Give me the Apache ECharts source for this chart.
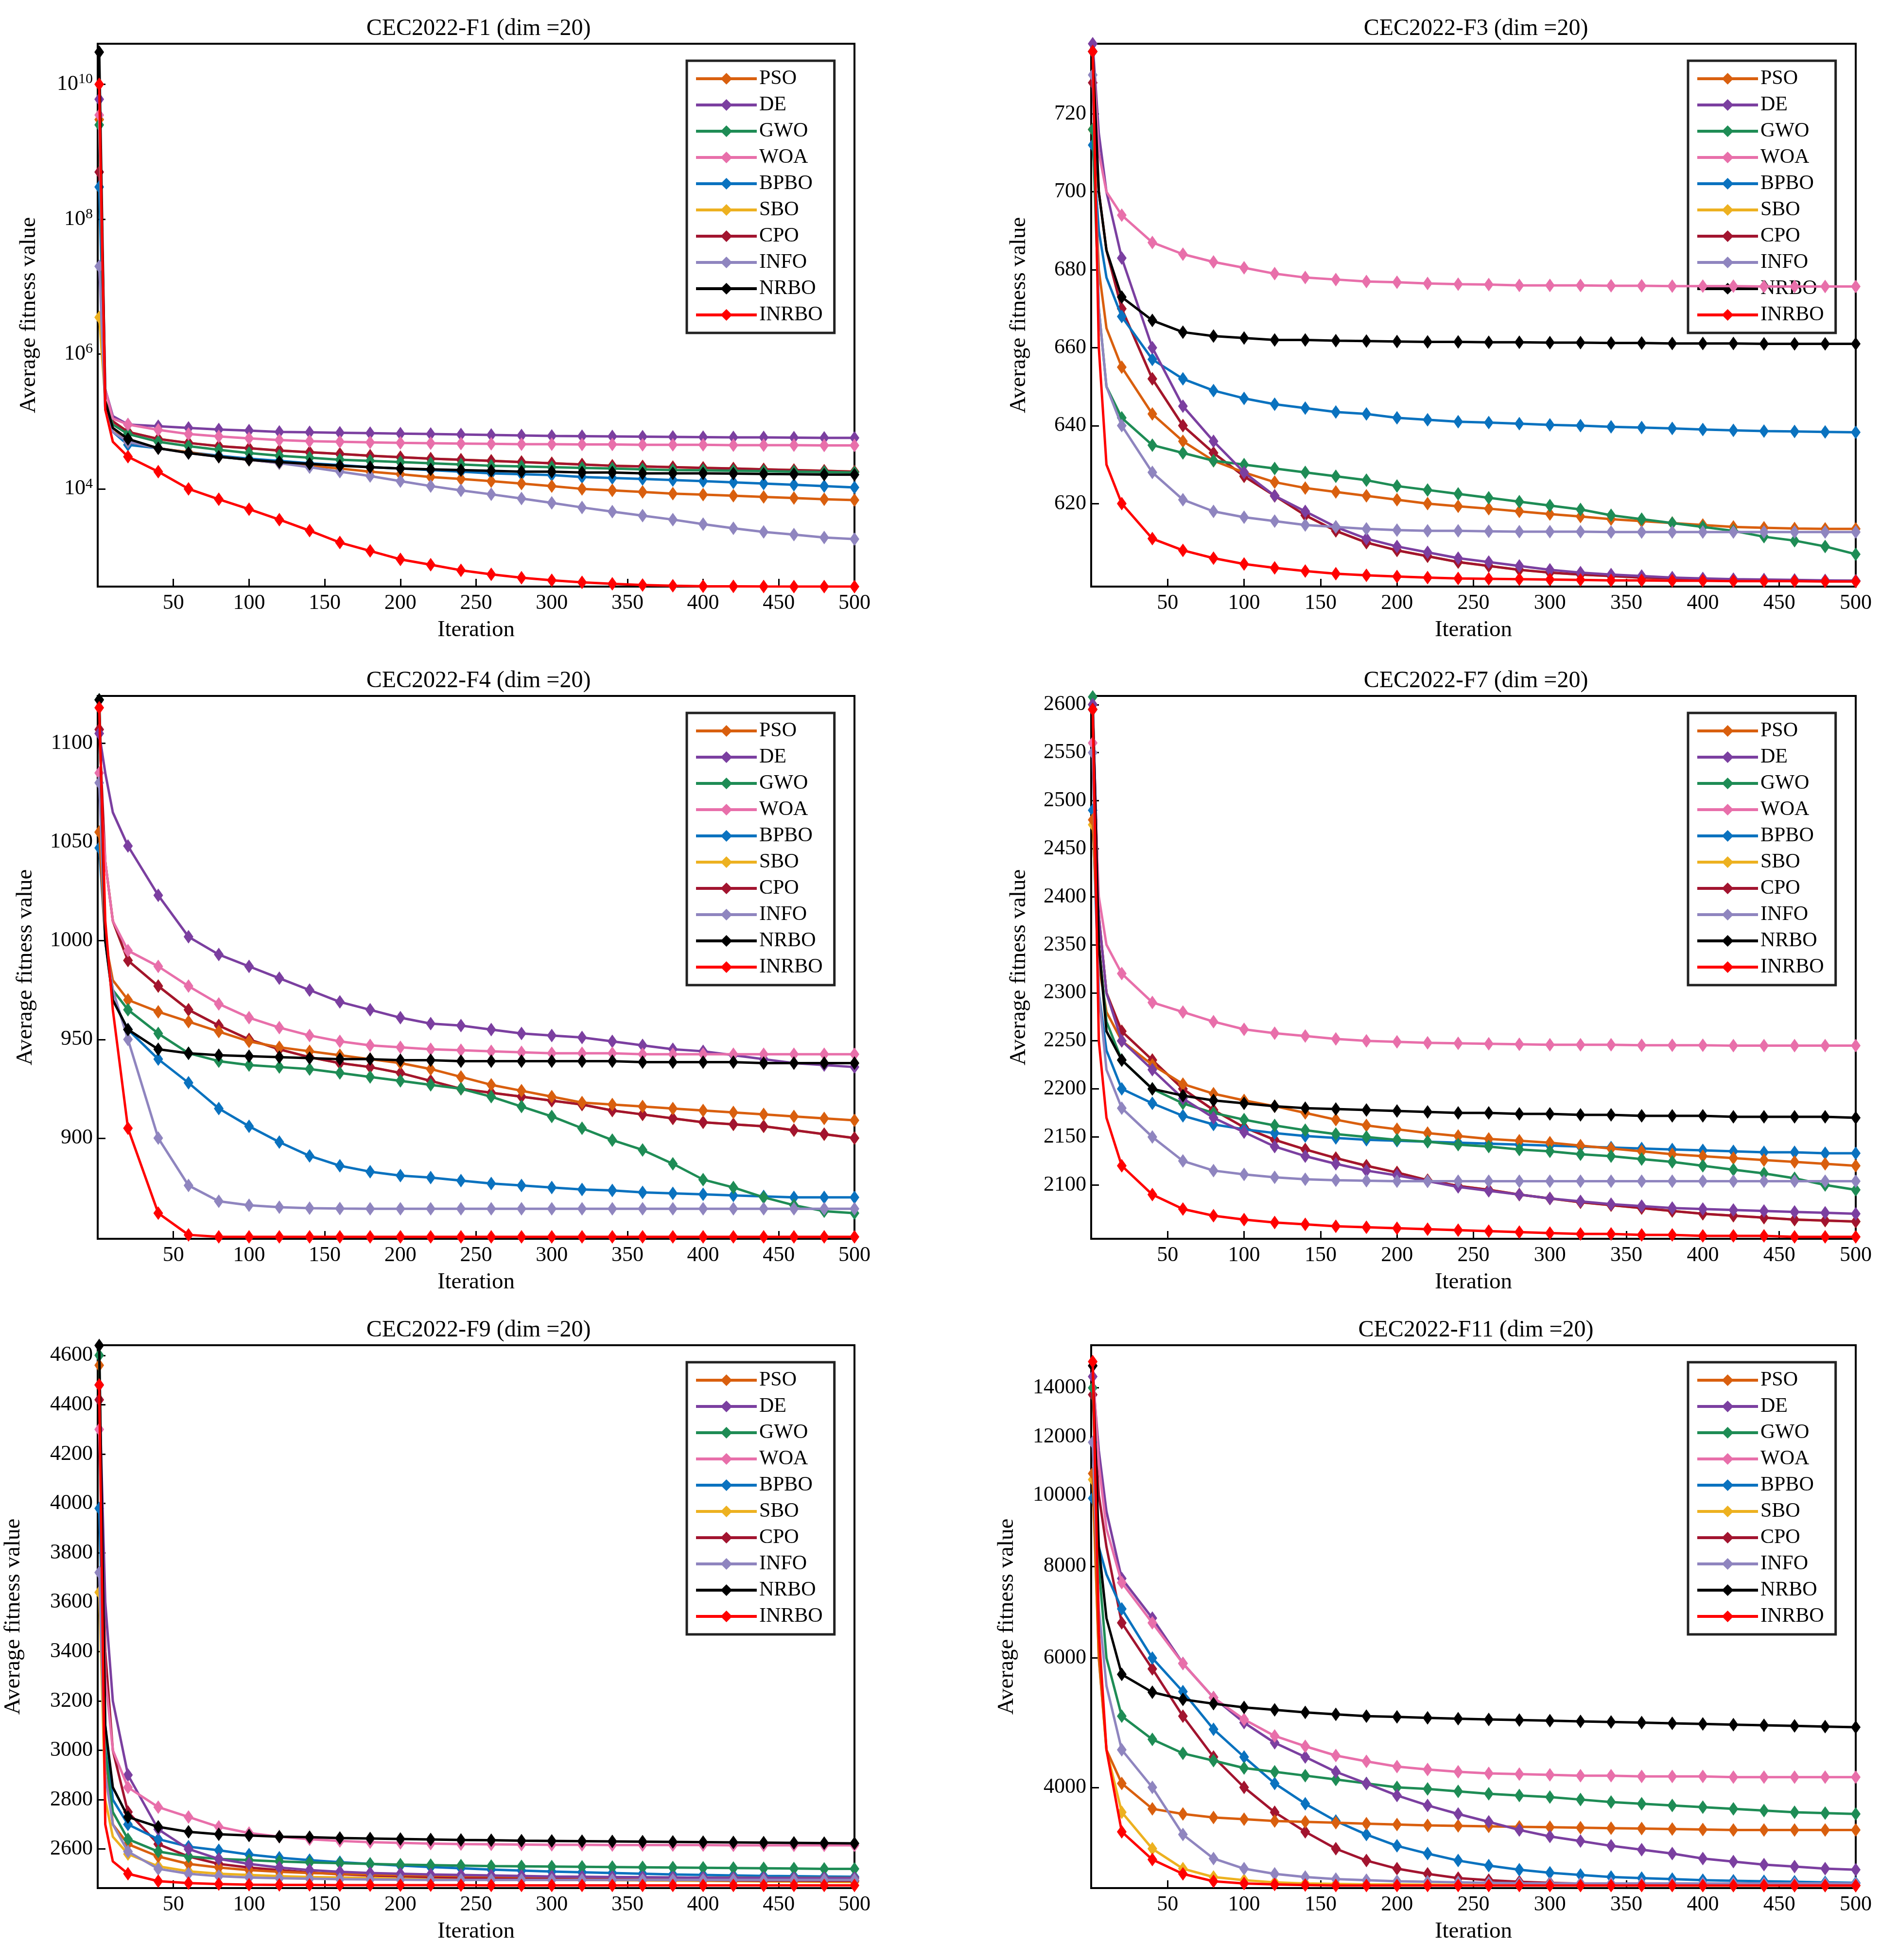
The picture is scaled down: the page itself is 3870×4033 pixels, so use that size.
<!DOCTYPE html>
<html><head><meta charset="utf-8">
<script src="https://cdn.jsdelivr.net/npm/echarts@6/dist/echarts.min.js"></script>
<style>html,body{margin:0;padding:0;background:#fff}#c{width:3870px;height:4033px}</style>
</head><body><div id="c"></div>
<script>
const iters = [1,5,10,20,40,60,80,100,120,140,160,180,200,220,240,260,280,300,320,340,360,380,400,420,440,460,480,500];
const algNames = ['PSO','DE','GWO','WOA','BPBO','SBO','CPO','INFO','NRBO','INRBO'];
const algColors = ['#D95F0E','#7B3FA0','#1E8C55','#E86FAA','#0A72BF','#EDB120','#A2142F','#8F85BF','#000000','#FF0000'];
const panelTitles = ['CEC2022-F1 (dim =20)','CEC2022-F3 (dim =20)','CEC2022-F4 (dim =20)','CEC2022-F7 (dim =20)','CEC2022-F9 (dim =20)','CEC2022-F11 (dim =20)'];

const f1Ticks = [1e4,1e6,1e8,1e10];
const f1_PSO=[3e9,2e5,8e4,5e4,4e4,3.5e4,3e4,2.7e4,2.4e4,2.2e4,2e4,1.8e4,1.65e4,1.5e4,1.4e4,1.3e4,1.2e4,1.1e4,1.0e4,9.5e3,9e3,8.5e3,8.2e3,7.9e3,7.6e3,7.3e3,7e3,6.8e3];
const f1_DE=[6e9,3e5,1.2e5,9e4,8.5e4,8e4,7.6e4,7.3e4,7e4,6.9e4,6.8e4,6.7e4,6.6e4,6.5e4,6.4e4,6.3e4,6.2e4,6.1e4,6.05e4,6e4,5.95e4,5.9e4,5.85e4,5.8e4,5.8e4,5.75e4,5.7e4,5.7e4];
const f1_GWO=[2.5e9,2e5,9e4,6.5e4,5e4,4.3e4,3.8e4,3.4e4,3.1e4,2.9e4,2.7e4,2.6e4,2.5e4,2.4e4,2.3e4,2.2e4,2.15e4,2.1e4,2.05e4,2e4,1.95e4,1.9e4,1.88e4,1.85e4,1.83e4,1.8e4,1.78e4,1.75e4];
const f1_WOA=[3.5e9,3e5,1.1e5,9e4,7.5e4,6.5e4,6e4,5.6e4,5.3e4,5.1e4,5e4,4.9e4,4.8e4,4.75e4,4.7e4,4.65e4,4.6e4,4.6e4,4.55e4,4.55e4,4.5e4,4.5e4,4.5e4,4.45e4,4.45e4,4.45e4,4.4e4,4.4e4];
const f1_BPBO=[3e8,1.5e5,7e4,4.5e4,4e4,3.5e4,3.1e4,2.8e4,2.6e4,2.4e4,2.25e4,2.1e4,2e4,1.9e4,1.8e4,1.7e4,1.65e4,1.6e4,1.5e4,1.45e4,1.4e4,1.35e4,1.3e4,1.25e4,1.2e4,1.15e4,1.1e4,1.05e4];
const f1_SBO=[3.5e6,2e5,1e5,7e4,5.5e4,4.8e4,4.3e4,4e4,3.7e4,3.5e4,3.3e4,3.1e4,2.95e4,2.8e4,2.7e4,2.6e4,2.5e4,2.4e4,2.3e4,2.2e4,2.15e4,2.1e4,2.05e4,2e4,1.95e4,1.9e4,1.85e4,1.8e4];
const f1_CPO=[5e8,2e5,1e5,7e4,5.5e4,4.8e4,4.3e4,4e4,3.7e4,3.5e4,3.3e4,3.1e4,2.95e4,2.8e4,2.7e4,2.6e4,2.5e4,2.4e4,2.3e4,2.2e4,2.15e4,2.1e4,2.05e4,2e4,1.95e4,1.9e4,1.85e4,1.8e4];
const f1_INFO=[2e7,1.5e5,7e4,5e4,4e4,3.4e4,3e4,2.7e4,2.4e4,2.1e4,1.8e4,1.55e4,1.3e4,1.1e4,9.5e3,8.3e3,7.2e3,6.2e3,5.3e3,4.6e3,4e3,3.5e3,3e3,2.6e3,2.3e3,2.1e3,1.9e3,1.8e3];
const f1_NRBO=[3e10,2e5,8e4,5.5e4,4e4,3.4e4,3e4,2.7e4,2.5e4,2.35e4,2.2e4,2.1e4,2e4,1.95e4,1.9e4,1.85e4,1.8e4,1.8e4,1.75e4,1.75e4,1.7e4,1.7e4,1.7e4,1.68e4,1.66e4,1.65e4,1.63e4,1.62e4];
const f1_INRBO=[1e10,1.5e5,5e4,3e4,1.8e4,1e4,7e3,5e3,3.5e3,2.4e3,1.6e3,1.2e3,900,750,620,540,480,440,410,390,375,365,360,358,356,355,355,355];

const f3Ticks = [620,640,660,680,700,720];
const f3_PSO=[716,680,665,655,643,636,631,628,625.5,624,623,622,621,620,619.3,618.7,618,617.3,616.7,616,615.5,615,614.5,614,613.8,613.6,613.5,613.5];
const f3_DE=[738,715,700,683,660,645,636,628,622,618,614,611,609,607.5,606,605,604,603,602.3,601.8,601.4,601,600.8,600.6,600.5,600.4,600.3,600.2];
const f3_GWO=[716,670,650,642,635,633,631,630,629,628,627,626,624.5,623.5,622.5,621.5,620.5,619.5,618.5,617,616,615,614,613,611.5,610.5,609,607];
const f3_WOA=[736,710,700,694,687,684,682,680.5,679,678,677.5,677,676.8,676.5,676.3,676.2,676,676,676,675.9,675.9,675.8,675.8,675.8,675.7,675.7,675.7,675.7];
const f3_BPBO=[712,690,678,668,657,652,649,647,645.5,644.5,643.5,643,642,641.5,641,640.8,640.5,640.2,640,639.7,639.5,639.3,639,638.8,638.6,638.5,638.4,638.3];
const f3_SBO=[716,700,685,670,652,640,633,627,622,617,613,610,608,606.5,605,604,603,602.3,601.8,601.4,601,600.8,600.6,600.5,600.4,600.3,600.2,600.2];
const f3_CPO=[728,700,685,670,652,640,633,627,622,617,613,610,608,606.5,605,604,603,602.3,601.8,601.4,601,600.8,600.6,600.5,600.4,600.3,600.2,600.2];
const f3_INFO=[730,670,650,640,628,621,618,616.5,615.5,614.5,614,613.5,613.2,613,613,612.9,612.8,612.8,612.8,612.7,612.7,612.7,612.7,612.7,612.7,612.7,612.7,612.7];
const f3_NRBO=[736,700,685,673,667,664,663,662.5,662,662,661.8,661.7,661.6,661.5,661.5,661.4,661.4,661.3,661.3,661.2,661.2,661.1,661.1,661.1,661,661,661,661];
const f3_INRBO=[736,660,630,620,611,608,606,604.5,603.5,602.7,602,601.6,601.3,601,600.8,600.7,600.6,600.5,600.4,600.3,600.3,600.2,600.2,600.1,600.1,600.1,600,600];

const f4Ticks = [900,950,1000,1050,1100];
const f4_PSO=[1055,1000,980,970,964,959,954,949,946,944,942,940,938,935,931,927,924,921,918,917,916,915,914,913,912,911,910,909];
const f4_DE=[1105,1085,1065,1048,1023,1002,993,987,981,975,969,965,961,958,957,955,953,952,951,949,947,945,944,942,940,938,937,936];
const f4_GWO=[1122,1000,975,965,953,943,939,937,936,935,933,931,929,927,925,921,916,911,905,899,894,887,879,875,870,866,863,862];
const f4_WOA=[1085,1040,1010,995,987,977,968,961,956,952,949,947,946,945,944.5,944,943.5,943,943,943,942.5,942.5,942.5,942.5,942.5,942.5,942.5,942.5];
const f4_BPBO=[1047,1000,970,955,940,928,915,906,898,891,886,883,881,880,878.5,877,876,875,874,873.5,872.5,872,871.5,871,870.5,870,870,870];
const f4_SBO=[1055,1040,1010,990,977,965,957,950,945,941,938,936,933,929,925,923,921,919,917,914,912,910,908,907,906,904,902,900];
const f4_CPO=[1107,1040,1010,990,977,965,957,950,945,941,938,936,933,929,925,923,921,919,917,914,912,910,908,907,906,904,902,900];
const f4_INFO=[1080,1000,975,950,900,876,868,866,865,864.5,864.3,864.2,864.2,864.2,864.2,864.2,864.2,864.2,864.2,864.2,864.2,864.2,864.2,864.2,864.2,864.2,864.2,864.2];
const f4_NRBO=[1122,1000,970,955,945,943,942,941.5,941,940.5,940,940,939.5,939.5,939,939,939,939,939,939,938.5,938.5,938.5,938.5,938,938,938,938];
const f4_INRBO=[1118,1010,965,905,862,851,850,850,850,850,850,850,850,850,850,850,850,850,850,850,850,850,850,850,850,850,850,850];

const f7Ticks = [2100,2150,2200,2250,2300,2350,2400,2450,2500,2550,2600];
const f7_PSO=[2480,2330,2280,2250,2225,2205,2195,2188,2182,2175,2168,2162,2158,2154,2151,2148,2146,2144,2141,2138,2135,2132,2130,2128,2126,2124,2122,2120];
const f7_DE=[2600,2380,2300,2250,2220,2190,2170,2155,2140,2130,2122,2115,2110,2104,2098,2094,2090,2086,2083,2080,2078,2076,2075,2074,2073,2072,2071,2070];
const f7_GWO=[2608,2350,2270,2230,2200,2185,2175,2168,2162,2157,2153,2150,2147,2145,2142,2140,2137,2135,2132,2130,2127,2124,2120,2116,2112,2107,2100,2095];
const f7_WOA=[2560,2400,2350,2320,2290,2280,2270,2262,2258,2255,2252,2250,2249,2248,2247.5,2247,2246.5,2246,2246,2246,2245.5,2245.5,2245.5,2245,2245,2245,2245,2245];
const f7_BPBO=[2490,2300,2240,2200,2185,2172,2163,2158,2154,2151,2149,2147,2146,2145,2144,2143,2142,2141,2140,2139,2138,2137,2136,2135,2134,2134,2133,2133];
const f7_SBO=[2475,2380,2300,2260,2230,2200,2178,2160,2147,2137,2128,2120,2113,2105,2099,2095,2090,2086,2082,2079,2076,2073,2070,2068,2066,2064,2063,2062];
const f7_CPO=[2600,2380,2300,2260,2230,2200,2178,2160,2147,2137,2128,2120,2113,2105,2099,2095,2090,2086,2082,2079,2076,2073,2070,2068,2066,2064,2063,2062];
const f7_INFO=[2550,2300,2220,2180,2150,2125,2115,2111,2108,2106,2105,2104.5,2104,2104,2104,2104,2104,2104,2104,2104,2104,2104,2104,2104,2104,2104,2104,2104];
const f7_NRBO=[2595,2350,2260,2230,2200,2193,2188,2185,2182,2180,2179,2178,2177,2176,2175,2175,2174,2174,2173,2173,2172,2172,2172,2171,2171,2171,2171,2170];
const f7_INRBO=[2595,2250,2170,2120,2090,2075,2068,2064,2061,2059,2057,2056,2055,2054,2053,2052,2051,2050,2049,2049,2048,2048,2047,2047,2047,2046,2046,2046];

const f9Ticks = [2600,2800,3000,3200,3400,3600,3800,4000,4200,4400,4600];
const f9_PSO=[4560,3000,2700,2620,2570,2540,2525,2515,2508,2503,2500,2497,2495,2493,2491,2490,2489,2488,2487,2486,2485,2485,2484,2484,2483,2483,2483,2483];
const f9_DE=[4480,3600,3200,2900,2680,2600,2560,2540,2525,2515,2508,2503,2500,2497,2495,2493,2491,2489,2488,2487,2486,2485,2484,2483,2483,2482,2482,2482];
const f9_GWO=[4600,3000,2750,2640,2590,2570,2560,2555,2550,2546,2543,2540,2537,2535,2533,2531,2530,2529,2528,2527,2526,2525,2524,2523,2522,2521,2520,2520];
const f9_WOA=[4300,3300,3000,2850,2770,2730,2690,2665,2650,2640,2633,2628,2625,2622,2620,2619,2618,2617,2617,2616,2616,2616,2616,2615,2615,2615,2615,2615];
const f9_BPBO=[3980,3100,2800,2700,2640,2610,2595,2578,2565,2555,2547,2540,2533,2527,2522,2517,2513,2509,2506,2503,2500,2497,2495,2493,2491,2490,2489,2488];
const f9_SBO=[3640,2800,2650,2580,2530,2510,2500,2495,2490,2487,2485,2483,2481,2480,2479,2478,2477,2476,2475,2474,2473,2472,2471,2470,2469,2468,2467,2466];
const f9_CPO=[4420,3400,3000,2750,2620,2570,2540,2525,2515,2505,2498,2493,2490,2487,2485,2483,2481,2479,2478,2477,2476,2475,2474,2473,2472,2472,2471,2471];
const f9_INFO=[3720,2900,2700,2590,2520,2500,2490,2485,2482,2480,2478,2477,2476,2475,2475,2475,2475,2475,2475,2475,2475,2475,2475,2475,2475,2475,2475,2475];
const f9_NRBO=[4640,3100,2850,2730,2690,2670,2660,2655,2650,2648,2645,2643,2641,2639,2637,2636,2634,2633,2632,2631,2630,2629,2628,2627,2626,2625,2624,2623];
const f9_INRBO=[4480,2700,2550,2500,2470,2462,2458,2456,2455,2455,2454,2454,2454,2454,2454,2453,2453,2453,2453,2453,2453,2453,2453,2453,2453,2453,2453,2453];

const f11Ticks = [4000,6000,8000,10000,12000,14000];
const f11_PSO=[10700,6000,4500,4050,3740,3680,3640,3620,3600,3590,3580,3570,3560,3550,3545,3540,3535,3530,3525,3520,3515,3510,3505,3500,3500,3500,3500,3500];
const f11_DE=[14500,11500,9500,7700,6800,5900,5300,4900,4600,4400,4200,4050,3900,3780,3680,3590,3500,3430,3380,3330,3290,3250,3200,3170,3140,3120,3100,3090];
const f11_GWO=[14000,8000,6000,5000,4650,4450,4350,4250,4200,4150,4100,4050,4000,3980,3950,3920,3900,3880,3850,3820,3800,3780,3760,3740,3720,3700,3690,3680];
const f11_WOA=[15000,11000,9000,7600,6700,5900,5300,4950,4700,4550,4420,4340,4270,4230,4200,4180,4170,4160,4150,4150,4140,4140,4140,4130,4130,4130,4130,4130];
const f11_BPBO=[9900,8500,7800,7000,6000,5400,4800,4400,4050,3800,3600,3450,3330,3250,3180,3130,3090,3060,3040,3020,3010,3000,2990,2985,2980,2975,2970,2965];
const f11_SBO=[10500,6000,4500,3700,3300,3100,3020,2990,2970,2960,2955,2950,2950,2948,2946,2945,2944,2943,2942,2942,2941,2941,2940,2940,2940,2940,2940,2940];
const f11_CPO=[13700,10000,8500,6700,5800,5000,4400,4000,3700,3480,3300,3180,3100,3050,3010,2990,2975,2965,2958,2952,2948,2945,2943,2942,2941,2940,2940,2940];
const f11_INFO=[11800,7000,5500,4500,4000,3450,3200,3100,3050,3020,3000,2990,2980,2975,2970,2965,2962,2960,2960,2960,2960,2960,2960,2960,2960,2960,2960,2960];
const f11_NRBO=[15000,8500,6800,5700,5390,5270,5200,5140,5100,5060,5030,5000,4990,4975,4960,4950,4940,4930,4920,4910,4900,4890,4880,4870,4860,4850,4840,4830];
const f11_INRBO=[15200,6500,4500,3480,3190,3050,2980,2960,2950,2945,2940,2940,2940,2940,2940,2940,2940,2940,2940,2940,2940,2940,2940,2940,2940,2940,2940,2940];

const panelData = [
 [f1_PSO,f1_DE,f1_GWO,f1_WOA,f1_BPBO,f1_SBO,f1_CPO,f1_INFO,f1_NRBO,f1_INRBO],
 [f3_PSO,f3_DE,f3_GWO,f3_WOA,f3_BPBO,f3_SBO,f3_CPO,f3_INFO,f3_NRBO,f3_INRBO],
 [f4_PSO,f4_DE,f4_GWO,f4_WOA,f4_BPBO,f4_SBO,f4_CPO,f4_INFO,f4_NRBO,f4_INRBO],
 [f7_PSO,f7_DE,f7_GWO,f7_WOA,f7_BPBO,f7_SBO,f7_CPO,f7_INFO,f7_NRBO,f7_INRBO],
 [f9_PSO,f9_DE,f9_GWO,f9_WOA,f9_BPBO,f9_SBO,f9_CPO,f9_INFO,f9_NRBO,f9_INRBO],
 [f11_PSO,f11_DE,f11_GWO,f11_WOA,f11_BPBO,f11_SBO,f11_CPO,f11_INFO,f11_NRBO,f11_INRBO]
];
const panelTicks = [f1Ticks,f3Ticks,f4Ticks,f7Ticks,f9Ticks,f11Ticks];
const panelLog = [true,false,false,false,false,true];
const panelRange = [[355,4e10],[598.7,738],[849,1124],[2044,2609],[2442,4641],[2917,16000]];
const zOrder = [4,6,5,7,3,1,2,8,9,10];

const FONT = '"Liberation Serif","Times New Roman",serif';
const colLeft = [201,2245], colWidth = [1557,1573];
const rowTop = [90,1432,2768], rowHeight = 1117;

const grids=[],xAxes=[],yAxes=[],titles=[],legends=[],series=[];
for(let p=0;p<6;p++){
  const c=p%2, r=Math.floor(p/2);
  const lg = panelLog[p];
  const tf = v => lg ? Math.log10(v) : v;
  const L=colLeft[c], T=rowTop[r], W=colWidth[c];
  grids.push({left:L,top:T,width:W,height:rowHeight,show:true,borderColor:'#000',borderWidth:4,backgroundColor:'#fff'});
  xAxes.push({type:'value',gridIndex:p,min:0,max:500,interval:50,
    name:'Iteration',nameLocation:'middle',nameGap:66,nameTextStyle:{fontFamily:FONT,fontSize:47,color:'#000'},
    axisLine:{show:false},splitLine:{show:false},
    axisTick:{inside:true,length:16,lineStyle:{color:'#000',width:3}},
    axisLabel:{fontFamily:FONT,fontSize:44,color:'#000',margin:12,formatter:v=>v===0?'':String(v)}});
  const tv = panelTicks[p].map(tf);
  yAxes.push({type:'value',gridIndex:p,min:tf(panelRange[p][0]),max:tf(panelRange[p][1]),
    name:'Average fitness value',nameLocation:'middle',nameGap:p===0?118:(p>=4?150:125),nameTextStyle:{fontFamily:FONT,fontSize:47,color:'#000'},
    axisLine:{show:false},splitLine:{show:false},
    axisTick:{inside:true,length:16,customValues:tv,lineStyle:{color:'#000',width:3}},
    axisLabel:{fontFamily:FONT,fontSize:44,color:'#000',margin:10,customValues:tv,
      formatter: lg && p===0 ? (v=>'10{s|'+Math.round(v)+'}') : (lg ? (v=>String(Math.round(Math.pow(10,v)/1000)*1000)) : (v=>String(Math.round(v)))),
      rich:{s:{fontFamily:FONT,fontSize:30,verticalAlign:'top',padding:[0,0,20,0],color:'#000'}}}});
  titles.push({text:panelTitles[p],left:L+W/2,top:T-60,textAlign:'center',textStyle:{fontFamily:FONT,fontSize:48,fontWeight:'normal',color:'#000'}});
  legends.push({orient:'vertical',left:L+W-345,top:T+35,width:310,itemGap:12,itemWidth:125,itemHeight:30,
    backgroundColor:'#fff',borderColor:'#222',borderWidth:5,padding:[16,24,16,16],
    lineStyle:{width:6},
    textStyle:{fontFamily:FONT,fontSize:42,color:'#000'},
    data:algNames.map(n=>({name:n+'\u200B'.repeat(p)}))});
  panelData[p].forEach((vals,k)=>{
    series.push({type:'line',name:algNames[k]+'\u200B'.repeat(p),xAxisIndex:p,yAxisIndex:p,
      data:iters.map((x,i)=>[x,tf(vals[i])]),
      symbol:'diamond',symbolSize:(v)=> (v[0]===5||v[0]===10)?0:[20,28],showAllSymbol:true,
      lineStyle:{color:algColors[k],width:5},itemStyle:{color:algColors[k]},
      color:algColors[k],animation:false,z:2+zOrder[k]});
  });
}
const chart = echarts.init(document.getElementById('c'),null,{renderer:'canvas'});
chart.setOption({animation:false,backgroundColor:'#fff',title:titles,grid:grids,xAxis:xAxes,yAxis:yAxes,legend:legends,series:series});
</script></body></html>
